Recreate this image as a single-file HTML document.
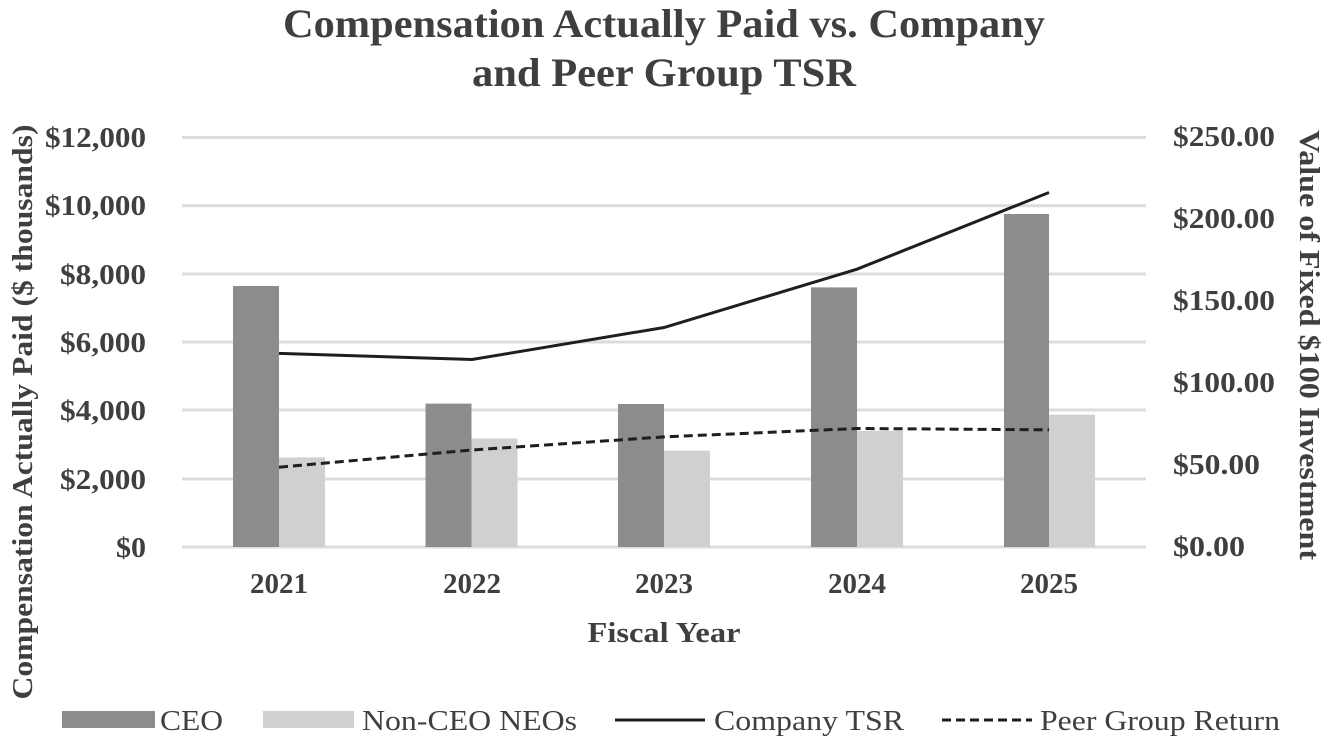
<!DOCTYPE html>
<html><head><meta charset="utf-8"><style>
html,body{margin:0;padding:0;background:#fff;}
svg{display:block;}
text{font-family:"Liberation Serif",serif;fill:#3f3f3f;}
</style></head><body>
<svg width="1328" height="741" viewBox="0 0 1328 741" xmlns="http://www.w3.org/2000/svg">
<text x="664" y="37" text-anchor="middle" font-size="40" font-weight="bold" textLength="762" lengthAdjust="spacingAndGlyphs">Compensation Actually Paid vs. Company</text>
<text x="664" y="86" text-anchor="middle" font-size="40" font-weight="bold" textLength="384" lengthAdjust="spacingAndGlyphs">and Peer Group TSR</text>
<g stroke="#dcdcdc" stroke-width="3">
<line x1="182" x2="1146" y1="137.5" y2="137.5"/>
<line x1="182" x2="1146" y1="205.8" y2="205.8"/>
<line x1="182" x2="1146" y1="274" y2="274"/>
<line x1="182" x2="1146" y1="342" y2="342"/>
<line x1="182" x2="1146" y1="410" y2="410"/>
<line x1="182" x2="1146" y1="479" y2="479"/>
<line x1="182" x2="1146" y1="547" y2="547"/>
</g>
<g fill="#8b8c8e">
<rect x="233" y="286" width="46" height="261"/>
<rect x="425.5" y="403.6" width="46" height="143.4"/>
<rect x="618" y="404" width="46" height="143"/>
<rect x="811" y="287.4" width="46" height="259.6"/>
<rect x="1004" y="214" width="45" height="333"/>
</g>
<g fill="#cfd0d1">
<rect x="279" y="457.4" width="46" height="89.6"/>
<rect x="471.5" y="438.6" width="46" height="108.4"/>
<rect x="664" y="450.7" width="46" height="96.3"/>
<rect x="857" y="430.8" width="46" height="116.2"/>
<rect x="1049" y="414.7" width="46" height="132.3"/>
</g>
<polyline points="279,353.4 472,359.5 664,327.5 857,269.2 1049,192.5" fill="none" stroke="#1e1e1e" stroke-width="3"/>
<polyline points="279,467.2 472,450 664,436.9 857,428.5 1049,429.8" fill="none" stroke="#1e1e1e" stroke-width="3" stroke-dasharray="9,5"/>
<g font-size="29" font-weight="bold" text-anchor="end">
<text x="146" y="147" textLength="101" lengthAdjust="spacingAndGlyphs">$12,000</text>
<text x="146" y="215" textLength="101" lengthAdjust="spacingAndGlyphs">$10,000</text>
<text x="146" y="284" textLength="86" lengthAdjust="spacingAndGlyphs">$8,000</text>
<text x="146" y="352" textLength="86" lengthAdjust="spacingAndGlyphs">$6,000</text>
<text x="146" y="420" textLength="86" lengthAdjust="spacingAndGlyphs">$4,000</text>
<text x="146" y="489" textLength="86" lengthAdjust="spacingAndGlyphs">$2,000</text>
<text x="146" y="557" textLength="30" lengthAdjust="spacingAndGlyphs">$0</text>
</g>
<g font-size="29" font-weight="bold">
<text x="1173" y="146" textLength="102" lengthAdjust="spacingAndGlyphs">$250.00</text>
<text x="1173" y="228" textLength="102" lengthAdjust="spacingAndGlyphs">$200.00</text>
<text x="1173" y="310" textLength="102" lengthAdjust="spacingAndGlyphs">$150.00</text>
<text x="1173" y="392" textLength="102" lengthAdjust="spacingAndGlyphs">$100.00</text>
<text x="1173" y="474" textLength="87" lengthAdjust="spacingAndGlyphs">$50.00</text>
<text x="1173" y="556" textLength="72" lengthAdjust="spacingAndGlyphs">$0.00</text>
</g>
<g font-size="28" font-weight="bold" text-anchor="middle">
<text x="279" y="593" textLength="58" lengthAdjust="spacingAndGlyphs">2021</text>
<text x="472" y="593" textLength="58" lengthAdjust="spacingAndGlyphs">2022</text>
<text x="664" y="593" textLength="58" lengthAdjust="spacingAndGlyphs">2023</text>
<text x="857" y="593" textLength="58" lengthAdjust="spacingAndGlyphs">2024</text>
<text x="1049" y="593" textLength="58" lengthAdjust="spacingAndGlyphs">2025</text>
<text x="664" y="642" textLength="153" lengthAdjust="spacingAndGlyphs">Fiscal Year</text>
</g>
<text transform="translate(32,412) rotate(-90)" text-anchor="middle" font-size="29" font-weight="bold" textLength="575" lengthAdjust="spacingAndGlyphs">Compensation Actually Paid ($ thousands)</text>
<text transform="translate(1300,345) rotate(90)" text-anchor="middle" font-size="29" font-weight="bold" textLength="430" lengthAdjust="spacingAndGlyphs">Value of Fixed $100 Investment</text>
<rect x="62" y="711" width="93" height="17" fill="#8b8c8e"/>
<text x="160" y="730" font-size="29" textLength="63" lengthAdjust="spacingAndGlyphs">CEO</text>
<rect x="263" y="711" width="91" height="17" fill="#cfd0d1"/>
<text x="362" y="730" font-size="29" textLength="215" lengthAdjust="spacingAndGlyphs">Non-CEO NEOs</text>
<line x1="615" x2="705" y1="720" y2="720" stroke="#1e1e1e" stroke-width="3"/>
<text x="714" y="730" font-size="29" textLength="190" lengthAdjust="spacingAndGlyphs">Company TSR</text>
<line x1="942" x2="1032" y1="720" y2="720" stroke="#1e1e1e" stroke-width="3" stroke-dasharray="9,5"/>
<text x="1040" y="730" font-size="29" textLength="240" lengthAdjust="spacingAndGlyphs">Peer Group Return</text>
</svg>
</body></html>
